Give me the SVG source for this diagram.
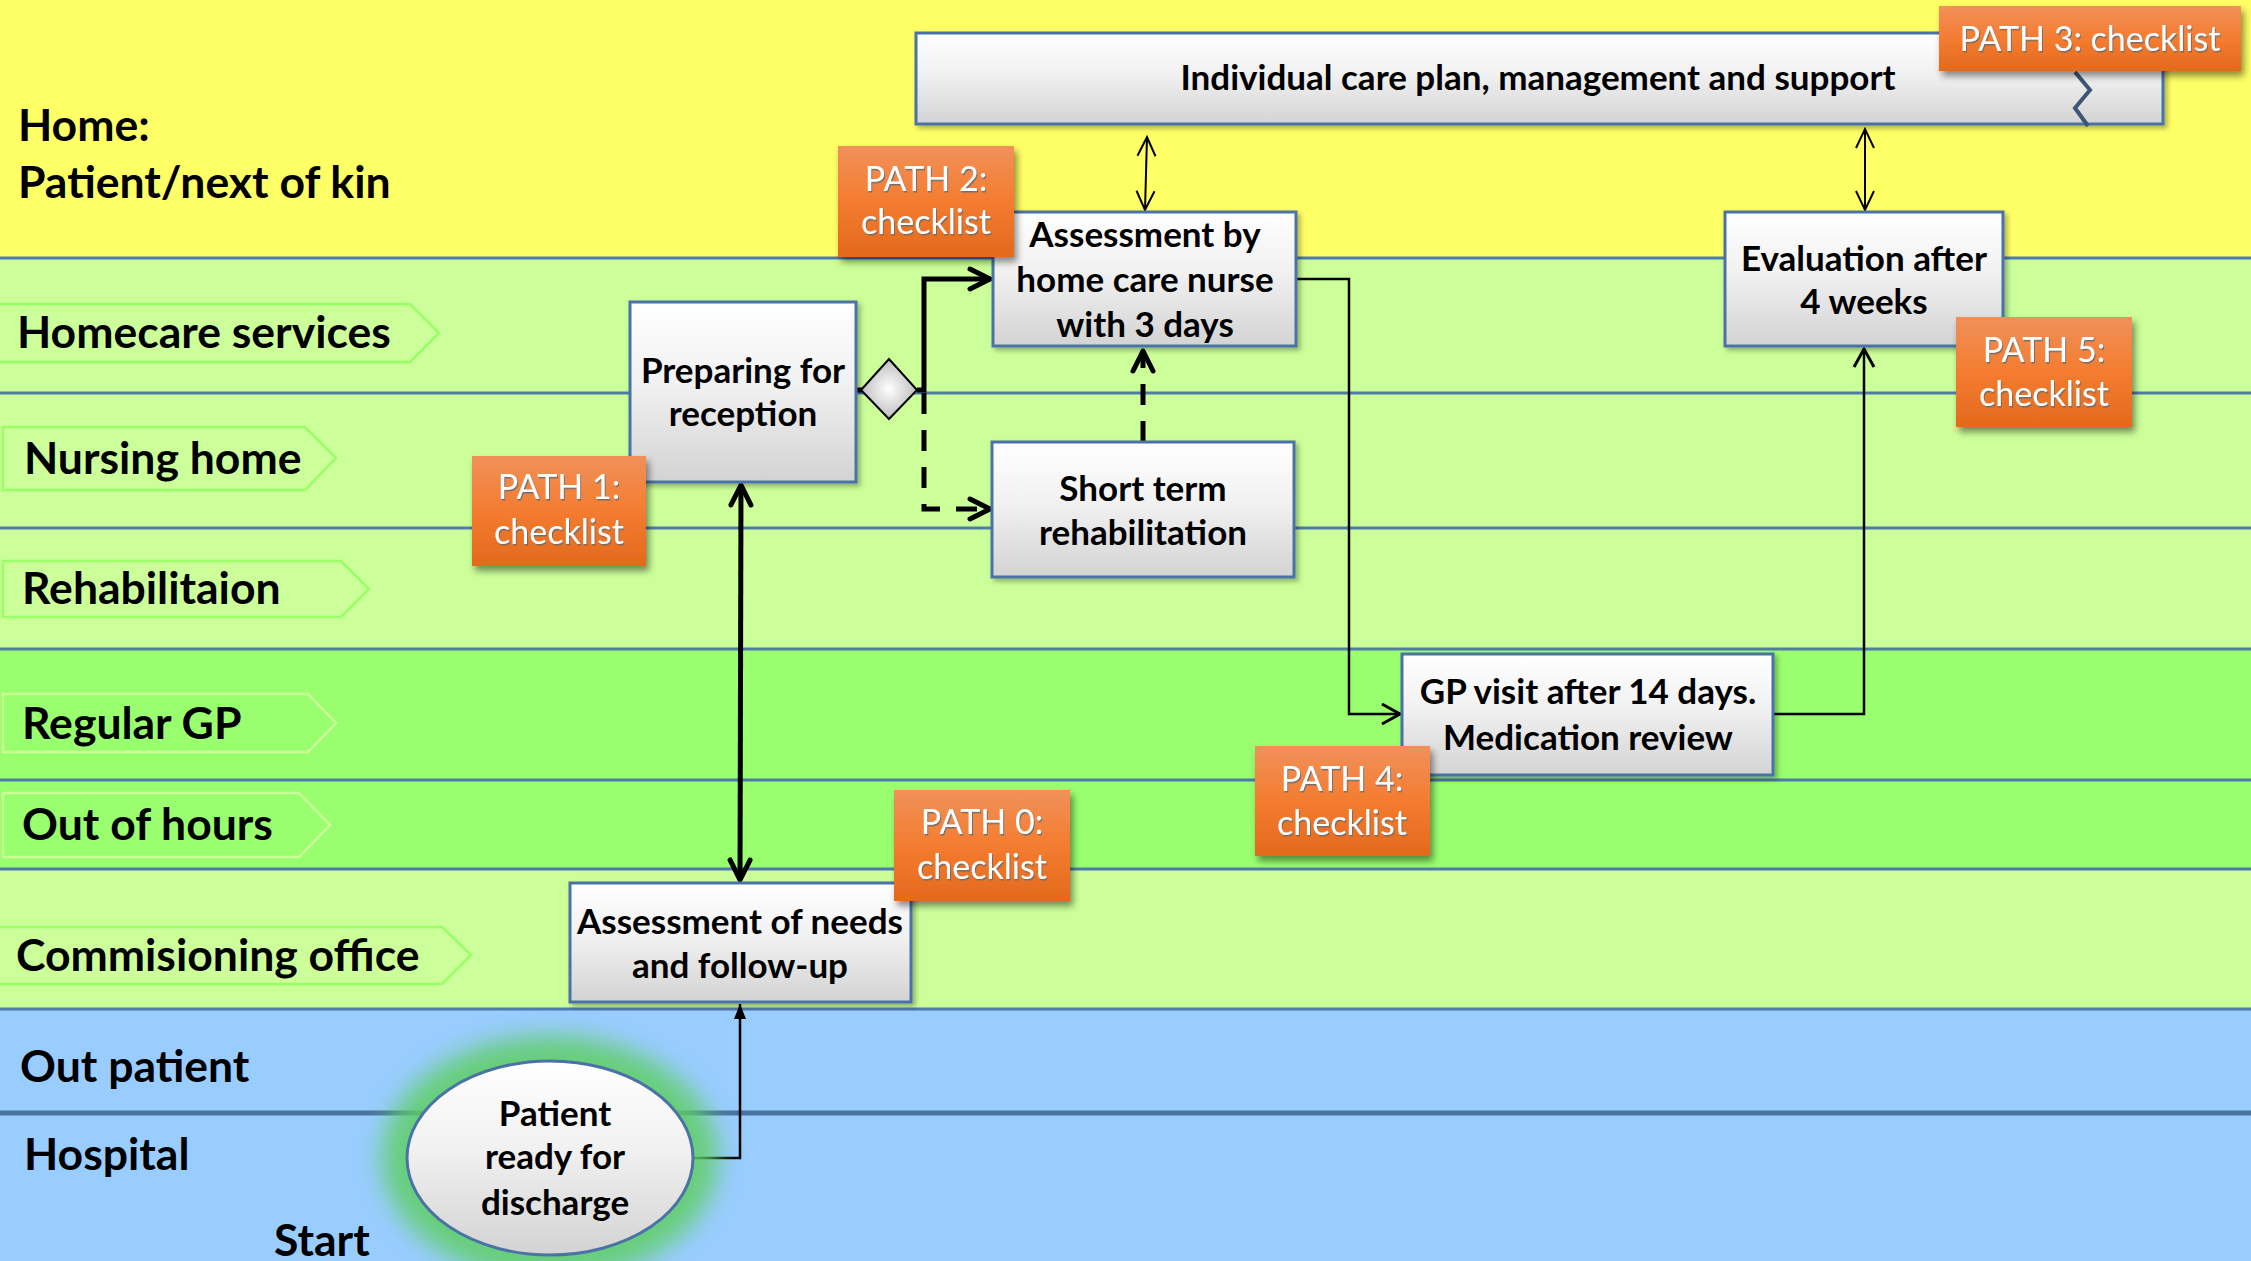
<svg xmlns="http://www.w3.org/2000/svg" width="2251" height="1261" viewBox="0 0 2251 1261">
<defs>
<style>
.lbl{font-family:Lato,"Liberation Sans",sans-serif;font-weight:700;font-size:44.5px;fill:#000}
.nt{font-family:Lato,"Liberation Sans",sans-serif;font-weight:700;font-size:35px;fill:#000;text-anchor:middle}
.pt{font-family:Lato,"Liberation Sans",sans-serif;font-weight:400;font-size:34px;fill:#fff;text-anchor:middle;filter:url(#txtsh)}
.box{fill:url(#gBox);stroke:#4a72a6;stroke-width:3;filter:url(#sh)}
.pbox{fill:url(#gOr);filter:url(#shOr)}
.tagL{fill:none;stroke:#99ff66;stroke-width:2.5}
.tagD{fill:none;stroke:#ccff99;stroke-width:2.5}
.ln{stroke:#4f7bab;stroke-width:3}
.thick{fill:none;stroke:#000;stroke-width:5;stroke-linejoin:miter}
.thin{fill:none;stroke:#000;stroke-width:2.5}
.hair{fill:none;stroke:#000;stroke-width:2}
.dash{stroke-dasharray:21 16}
</style>
<linearGradient id="gBox" x1="0" y1="0" x2="0" y2="1">
<stop offset="0" stop-color="#ffffff"/>
<stop offset="0.45" stop-color="#f1f1f1"/>
<stop offset="1" stop-color="#d3d3d3"/>
</linearGradient>
<linearGradient id="gOr" x1="0" y1="0" x2="0" y2="1">
<stop offset="0" stop-color="#f0915a"/>
<stop offset="0.5" stop-color="#f47c30"/>
<stop offset="1" stop-color="#e3691c"/>
</linearGradient>
<radialGradient id="gDia" cx="0.5" cy="0.5" r="0.5">
<stop offset="0" stop-color="#ffffff"/>
<stop offset="1" stop-color="#bdbdbd"/>
</radialGradient>
<filter id="sh" x="-10%" y="-10%" width="130%" height="130%">
<feDropShadow dx="3" dy="3" stdDeviation="2.5" flood-color="#000" flood-opacity="0.3"/>
</filter>
<filter id="shOr" x="-10%" y="-10%" width="130%" height="135%">
<feDropShadow dx="3" dy="5" stdDeviation="3.5" flood-color="#000" flood-opacity="0.45"/>
</filter>
<filter id="txtsh" x="-10%" y="-20%" width="120%" height="150%">
<feDropShadow dx="1" dy="1.5" stdDeviation="0.6" flood-color="#6b6b6b" flood-opacity="0.9"/>
</filter>
<filter id="glow" x="-30%" y="-30%" width="160%" height="160%">
<feGaussianBlur stdDeviation="12"/>
</filter>
<marker id="aThick" markerUnits="userSpaceOnUse" viewBox="-26 -14 30 28" markerWidth="30" markerHeight="28" refX="0" refY="0" orient="auto-start-reverse" overflow="visible">
<path d="M-20,-10 L0,0 L-20,10" fill="none" stroke="#000" stroke-width="5" stroke-linecap="round" stroke-linejoin="round"/>
</marker>
<marker id="aThin" markerUnits="userSpaceOnUse" viewBox="-22 -12 26 24" markerWidth="26" markerHeight="24" refX="0" refY="0" orient="auto-start-reverse" overflow="visible">
<path d="M-18,-10 L0,0 L-18,10" fill="none" stroke="#000" stroke-width="3"/>
</marker>
<marker id="aHair" markerUnits="userSpaceOnUse" viewBox="-22 -12 26 24" markerWidth="26" markerHeight="24" refX="0" refY="0" orient="auto-start-reverse" overflow="visible">
<path d="M-19,-9 L0,0 L-19,9" fill="none" stroke="#000" stroke-width="2"/>
</marker>
<marker id="aFill" markerUnits="userSpaceOnUse" viewBox="-18 -8 20 16" markerWidth="20" markerHeight="16" refX="0" refY="0" orient="auto" overflow="visible">
<path d="M-15,-6 L0,0 L-15,6 Z" fill="#000"/>
</marker>
</defs>

<g id="lanes">
<rect x="0" y="0" width="2251" height="258" fill="#ffff66"/>
<rect x="0" y="258" width="2251" height="391" fill="#ccff99"/>
<rect x="0" y="649" width="2251" height="220" fill="#99ff6f"/>
<rect x="0" y="869" width="2251" height="140" fill="#ccff99"/>
<rect x="0" y="1009" width="2251" height="252" fill="#99ccff"/>
<line class="ln" x1="0" y1="258" x2="2251" y2="258"/>
<line class="ln" x1="0" y1="393" x2="2251" y2="393"/>
<line class="ln" x1="0" y1="528" x2="2251" y2="528"/>
<line class="ln" x1="0" y1="649" x2="2251" y2="649"/>
<line class="ln" x1="0" y1="780" x2="2251" y2="780"/>
<line class="ln" x1="0" y1="869" x2="2251" y2="869"/>
<line class="ln" x1="0" y1="1009" x2="2251" y2="1009"/>
<line x1="0" y1="1113" x2="2251" y2="1113" stroke="#4a72a0" stroke-width="5"/>
</g>

<g id="lane-labels">
<text class="lbl" x="18" y="141">Home:</text>
<text class="lbl" x="18" y="198">Patient/next of kin</text>
<polygon class="tagL" points="-5,304 410,304 439,333 410,362 -5,362"/>
<text class="lbl" x="17" y="348">Homecare services</text>
<polygon class="tagL" points="3,427 305,427 336,458 305,490 3,490"/>
<text class="lbl" x="24" y="474">Nursing home</text>
<polygon class="tagL" points="3,561 341,561 369,589 341,617 3,617"/>
<text class="lbl" x="22" y="604">Rehabilitaion</text>
<polygon class="tagD" points="3,694 308,694 336,723 308,752 3,752"/>
<text class="lbl" x="22" y="739">Regular GP</text>
<polygon class="tagD" points="3,793 299,793 330,825 299,857 3,857"/>
<text class="lbl" x="22" y="840">Out of hours</text>
<polygon class="tagL" points="-5,927 442,927 471,955 442,984 -5,984"/>
<text class="lbl" x="16" y="971">Commisioning office</text>
<text class="lbl" x="20" y="1082">Out patient</text>
<text class="lbl" x="24" y="1170">Hospital</text>
<text class="lbl" x="274" y="1256">Start</text>
</g>

<g id="connectors">
<path class="thin" d="M693,1158 H740 V1004" marker-end="url(#aFill)"/>
<path class="thick" d="M741,485 L740,880" marker-start="url(#aThick)" marker-end="url(#aThick)"/>
<path class="thick" d="M856,390 H862"/>
<path class="thick" d="M917,390 H924 V279 H990" marker-end="url(#aThick)"/>
<path class="thick dash" d="M924,393 V509 H990" marker-end="url(#aThick)"/>
<path class="thick dash" d="M1143,442 V351" marker-end="url(#aThick)"/>
<path class="hair" d="M1147,137 L1145,210" marker-start="url(#aHair)" marker-end="url(#aHair)"/>
<path class="hair" d="M1865,129 L1865,210" marker-start="url(#aHair)" marker-end="url(#aHair)"/>
<path class="thin" d="M1297,279 H1349 V714 H1400" marker-end="url(#aThin)"/>
<path class="thin" d="M1773,714 H1864 V349" marker-end="url(#aThin)"/>
</g>

<g id="node-careplan">
<rect class="box" x="916" y="33" width="1247" height="91"/>
<polyline points="2075,72 2090,90 2075,108 2088,126" fill="none" stroke="#3e5676" stroke-width="4"/>
<text class="nt" x="1538" y="90">Individual care plan, management and support</text>
</g>

<g id="node-nurse">
<rect class="box" x="993" y="212" width="303" height="134"/>
<text class="nt" x="1145" y="247">Assessment by</text>
<text class="nt" x="1145" y="292">home care nurse</text>
<text class="nt" x="1145" y="337">with 3 days</text>
</g>

<g id="node-evaluation">
<rect class="box" x="1725" y="212" width="278" height="134"/>
<text class="nt" x="1864" y="271">Evaluation after</text>
<text class="nt" x="1864" y="314">4 weeks</text>
</g>

<g id="node-shortterm">
<rect class="box" x="992" y="442" width="302" height="135"/>
<text class="nt" x="1143" y="501">Short term</text>
<text class="nt" x="1143" y="545">rehabilitation</text>
</g>

<g id="node-preparing">
<rect class="box" x="630" y="302" width="226" height="180"/>
<text class="nt" x="743" y="383">Preparing for</text>
<text class="nt" x="743" y="426">reception</text>
</g>

<g id="node-decision">
<polygon points="861,390 889,359 917,390 889,419" fill="url(#gDia)" stroke="#000" stroke-width="2"/>
</g>

<g id="node-needs">
<rect class="box" x="570" y="883" width="341" height="119"/>
<text class="nt" x="740" y="934">Assessment of needs</text>
<text class="nt" x="740" y="978">and follow-up</text>
</g>

<g id="node-gp">
<rect class="box" x="1402" y="654" width="371" height="121"/>
<text class="nt" x="1588" y="704">GP visit after 14 days.</text>
<text class="nt" x="1588" y="750">Medication review</text>
</g>

<g id="node-start">
<ellipse cx="550" cy="1158" rx="168" ry="122" fill="#5fcf63" opacity="0.85" filter="url(#glow)"/>
<ellipse cx="550" cy="1158" rx="143" ry="97" fill="url(#gBox)" stroke="#4a72a6" stroke-width="3"/>
<text class="nt" x="555" y="1126">Patient</text>
<text class="nt" x="555" y="1169">ready for</text>
<text class="nt" x="555" y="1215">discharge</text>
</g>

<g id="path0">
<rect class="pbox" x="894" y="790" width="176" height="111"/>
<text class="pt" x="982" y="834">PATH 0:</text>
<text class="pt" x="982" y="879">checklist</text>
</g>
<g id="path1">
<rect class="pbox" x="472" y="456" width="174" height="110"/>
<text class="pt" x="559" y="499">PATH 1:</text>
<text class="pt" x="559" y="544">checklist</text>
</g>
<g id="path2">
<rect class="pbox" x="838" y="146" width="176" height="111"/>
<text class="pt" x="926" y="191">PATH 2:</text>
<text class="pt" x="926" y="234">checklist</text>
</g>
<g id="path3">
<rect class="pbox" x="1939" y="6" width="302" height="65"/>
<text class="pt" x="2090" y="51">PATH 3: checklist</text>
</g>
<g id="path4">
<rect class="pbox" x="1255" y="746" width="175" height="110"/>
<text class="pt" x="1342" y="791">PATH 4:</text>
<text class="pt" x="1342" y="835">checklist</text>
</g>
<g id="path5">
<rect class="pbox" x="1956" y="317" width="176" height="110"/>
<text class="pt" x="2044" y="362">PATH 5:</text>
<text class="pt" x="2044" y="406">checklist</text>
</g>
</svg>
